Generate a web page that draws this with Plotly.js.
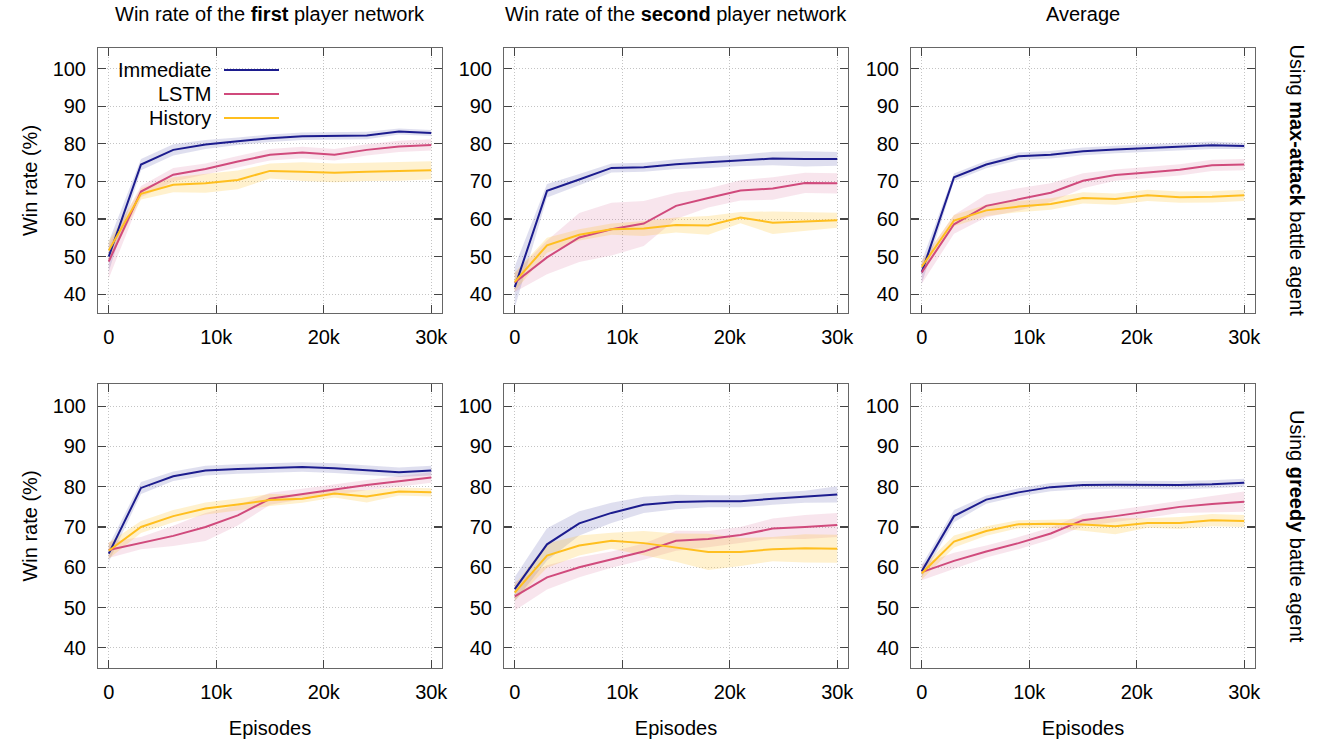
<!DOCTYPE html>
<html>
<head>
<meta charset="utf-8">
<script src="https://cdn.plot.ly/plotly-3.0.1.min.js"></script>
<style>html,body{margin:0;padding:0;background:#fff;}#chart{width:1321px;height:741px;}</style>
</head>
<body>
<div id="chart"></div>
<script>
// ---- Data ----
const episodes = [0, 3000, 6000, 9000, 12000, 15000, 18000, 21000, 24000, 27000, 30000];
const seriesNames = ["Immediate", "LSTM", "History"];
const colTitles = ["Win rate of the <b>first</b> player network", "Win rate of the <b>second</b> player network", "Average"];
const rowTitles = ["Using <b>max-attack</b> battle agent", "Using <b>greedy</b> battle agent"];
const xTickVals = [0, 10000, 20000, 30000];
const xTickText = ["0", "10k", "20k", "30k"];
const yTickVals = [40, 50, 60, 70, 80, 90, 100];

// max-attack, first player
const maxFirstImmediate = [50.0, 74.5, 78.4, 79.8, 80.7, 81.5, 82.0, 82.0, 82.2, 83.3, 82.9];
const maxFirstImmediateSd = [4.0, 1.5, 1.5, 1.2, 1.0, 1.0, 1.0, 1.0, 1.0, 0.8, 0.8];
const maxFirstLSTM = [48.7, 67.3, 71.8, 73.3, 75.3, 77.1, 77.7, 77.1, 78.4, 79.3, 79.7];
const maxFirstLSTMSd = [4.5, 1.5, 1.8, 1.5, 1.5, 1.5, 1.5, 1.5, 1.5, 1.5, 1.5];
const maxFirstHistory = [51.6, 66.7, 69.1, 69.5, 70.4, 72.8, 72.6, 72.3, 72.6, 72.7, 73.0];
const maxFirstHistorySd = [2.5, 1.5, 2.0, 2.5, 2.5, 2.0, 2.5, 2.5, 2.5, 2.5, 2.4];
// max-attack, second player
const maxSecondImmediate = [41.9, 67.5, 70.5, 73.6, 73.8, 74.6, 75.1, 75.6, 76.1, 76.0, 76.0];
const maxSecondImmediateSd = [5.5, 1.8, 1.5, 1.2, 1.2, 1.3, 1.5, 1.5, 1.8, 2.0, 1.8];
const maxSecondLSTM = [43.1, 49.8, 55.1, 57.3, 58.8, 63.5, 65.6, 67.6, 68.1, 69.6, 69.5];
const maxSecondLSTMSd = [2.5, 4.5, 6.5, 7.0, 6.0, 3.5, 2.5, 2.7, 3.0, 2.7, 2.7];
const maxSecondHistory = [43.3, 53.0, 55.8, 57.3, 57.5, 58.4, 58.3, 60.4, 59.0, 59.4, 59.7];
const maxSecondHistorySd = [2.5, 2.0, 1.5, 1.5, 2.0, 2.0, 2.5, 1.5, 3.0, 2.5, 2.0];
// max-attack, average
const maxAvgImmediate = [45.8, 71.1, 74.5, 76.7, 77.1, 78.0, 78.5, 78.8, 79.2, 79.6, 79.4];
const maxAvgImmediateSd = [3.0, 1.0, 1.0, 1.0, 1.0, 1.0, 1.0, 1.0, 1.0, 1.0, 0.8];
const maxAvgLSTM = [45.8, 58.6, 63.5, 65.2, 67.0, 70.2, 71.7, 72.4, 73.1, 74.3, 74.5];
const maxAvgLSTMSd = [3.0, 2.5, 3.0, 3.0, 2.5, 2.0, 1.5, 1.5, 1.5, 1.5, 1.5];
const maxAvgHistory = [47.3, 59.6, 62.3, 63.3, 64.0, 65.6, 65.3, 66.3, 65.8, 65.9, 66.3];
const maxAvgHistorySd = [1.5, 1.5, 1.5, 1.5, 1.5, 1.5, 1.5, 1.5, 1.5, 1.5, 1.5];
// greedy, first player
const greedyFirstImmediate = [63.4, 79.7, 82.6, 84.0, 84.4, 84.6, 84.9, 84.6, 84.1, 83.6, 84.0];
const greedyFirstImmediateSd = [2.0, 1.5, 1.2, 1.2, 1.2, 1.2, 1.2, 1.2, 1.2, 1.2, 1.2];
const greedyFirstLSTM = [64.3, 66.0, 67.8, 70.0, 72.9, 77.0, 78.2, 79.3, 80.4, 81.3, 82.3];
const greedyFirstLSTMSd = [2.0, 1.5, 2.5, 3.5, 2.5, 1.5, 1.3, 1.3, 1.3, 1.3, 1.3];
const greedyFirstHistory = [64.1, 70.0, 72.7, 74.6, 75.6, 76.7, 77.0, 78.3, 77.6, 78.8, 78.6];
const greedyFirstHistorySd = [2.0, 1.5, 1.5, 1.5, 1.5, 1.5, 1.0, 1.0, 1.5, 1.0, 1.0];
// greedy, second player
const greedySecondImmediate = [54.6, 65.7, 70.9, 73.5, 75.5, 76.2, 76.4, 76.4, 77.0, 77.5, 78.1];
const greedySecondImmediateSd = [3.0, 4.0, 3.0, 2.5, 2.0, 1.8, 1.5, 1.5, 1.5, 1.5, 2.0];
const greedySecondLSTM = [52.8, 57.5, 60.0, 61.9, 63.9, 66.6, 67.0, 68.0, 69.6, 70.0, 70.5];
const greedySecondLSTMSd = [3.5, 3.0, 2.5, 2.0, 2.0, 2.5, 2.0, 2.0, 2.5, 3.0, 3.0];
const greedySecondHistory = [53.7, 62.9, 65.4, 66.6, 66.0, 64.9, 63.8, 63.8, 64.5, 64.7, 64.6];
const greedySecondHistorySd = [2.0, 3.0, 2.5, 2.0, 3.0, 3.5, 4.5, 3.5, 3.0, 3.5, 3.5];
// greedy, average
const greedyAvgImmediate = [59.0, 72.7, 76.8, 78.6, 79.9, 80.4, 80.5, 80.4, 80.4, 80.6, 81.0];
const greedyAvgImmediateSd = [1.5, 1.5, 1.0, 1.0, 1.0, 1.0, 1.0, 1.0, 1.0, 1.0, 1.0];
const greedyAvgLSTM = [58.8, 61.6, 63.9, 66.0, 68.4, 71.7, 72.7, 73.8, 75.0, 75.7, 76.3];
const greedyAvgLSTMSd = [2.0, 2.0, 1.5, 1.5, 1.5, 1.5, 1.5, 1.5, 1.5, 2.0, 2.5];
const greedyAvgHistory = [58.5, 66.4, 69.0, 70.7, 70.8, 70.6, 70.2, 71.0, 71.0, 71.7, 71.5];
const greedyAvgHistorySd = [1.5, 1.5, 1.2, 1.0, 1.0, 1.5, 2.0, 1.2, 1.5, 1.5, 1.5];

// ---- Styling / layout ----
const W = 1321, H = 741;
const lineColors = ["#1c1c8e", "#d04a7c", "#ffbf1f"];
const fillColors = ["rgba(28,28,142,0.14)", "rgba(208,74,124,0.14)", "rgba(255,191,31,0.22)"];
const FONT = "Liberation Sans, Arial, Helvetica, sans-serif";
const FS = 20;

const panels = [
  [[maxFirstImmediate, maxFirstImmediateSd], [maxFirstLSTM, maxFirstLSTMSd], [maxFirstHistory, maxFirstHistorySd]],
  [[maxSecondImmediate, maxSecondImmediateSd], [maxSecondLSTM, maxSecondLSTMSd], [maxSecondHistory, maxSecondHistorySd]],
  [[maxAvgImmediate, maxAvgImmediateSd], [maxAvgLSTM, maxAvgLSTMSd], [maxAvgHistory, maxAvgHistorySd]],
  [[greedyFirstImmediate, greedyFirstImmediateSd], [greedyFirstLSTM, greedyFirstLSTMSd], [greedyFirstHistory, greedyFirstHistorySd]],
  [[greedySecondImmediate, greedySecondImmediateSd], [greedySecondLSTM, greedySecondLSTMSd], [greedySecondHistory, greedySecondHistorySd]],
  [[greedyAvgImmediate, greedyAvgImmediateSd], [greedyAvgLSTM, greedyAvgLSTMSd], [greedyAvgHistory, greedyAvgHistorySd]]
];

const colPx = [[98, 442], [504, 848], [911, 1255]];
const rowPx = [[48, 313], [384, 668]];
const px = v => v / W, py = v => 1 - v / H;

const traces = [];
const layout = {
  width: W, height: H,
  margin: {l: 0, r: 0, t: 0, b: 0},
  paper_bgcolor: "#fff", plot_bgcolor: "#fff",
  showlegend: false,
  font: {family: FONT, size: FS, color: "#000"},
  annotations: [], shapes: []
};

panels.forEach((panel, i) => {
  const r = Math.floor(i / 3), c = i % 3;
  const xa = i === 0 ? "x" : "x" + (i + 1);
  const ya = i === 0 ? "y" : "y" + (i + 1);
  panel.forEach(([mean, sd], s) => {
    traces.push({x: episodes, y: mean.map((m, k) => m - sd[k]), xaxis: xa, yaxis: ya,
      mode: "lines", line: {width: 0, color: fillColors[s]}, hoverinfo: "skip", showlegend: false});
    traces.push({x: episodes, y: mean.map((m, k) => m + sd[k]), xaxis: xa, yaxis: ya,
      mode: "lines", line: {width: 0, color: fillColors[s]}, fill: "tonexty", fillcolor: fillColors[s],
      hoverinfo: "skip", showlegend: false});
  });
  panel.forEach(([mean], s) => {
    traces.push({x: episodes, y: mean, xaxis: xa, yaxis: ya, name: seriesNames[s],
      mode: "lines", line: {width: 2, color: lineColors[s]}, showlegend: false});
  });
  const common = {
    showline: true, linecolor: "#666", linewidth: 1, mirror: "ticks",
    ticks: "inside", ticklen: 8, tickcolor: "#444", tickwidth: 1.2,
    showgrid: true, gridcolor: "#c4c4c4", griddash: "1px,2px", gridwidth: 1,
    zeroline: false, tickfont: {family: FONT, size: FS, color: "#000"}
  };
  layout["xaxis" + (i === 0 ? "" : i + 1)] = Object.assign({}, common, {
    domain: [px(colPx[c][0]), px(colPx[c][1])], anchor: ya,
    range: [-1000, 31000], tickvals: xTickVals, ticktext: xTickText, ticklabelstandoff: 6,
    title: r === 1 ? {text: "Episodes", font: {family: FONT, size: FS}, standoff: 18} : {text: ""}
  });
  layout["yaxis" + (i === 0 ? "" : i + 1)] = Object.assign({}, common, {
    domain: [py(rowPx[r][1]), py(rowPx[r][0])], anchor: xa,
    range: [35, 105.5], tickvals: yTickVals, ticklabelstandoff: 7,
    title: c === 0 ? {text: "Win rate (%)", font: {family: FONT, size: FS}, standoff: 9} : {text: ""}
  });
});

colTitles.forEach((t, c) => {
  layout.annotations.push({text: t, xref: "paper", yref: "paper",
    x: px((colPx[c][0] + colPx[c][1]) / 2), y: py(14), xanchor: "center", yanchor: "middle",
    showarrow: false, font: {family: FONT, size: FS}});
});
rowTitles.forEach((t, r) => {
  layout.annotations.push({text: t, xref: "paper", yref: "paper",
    x: px(1297), y: py((rowPx[r][0] + rowPx[r][1]) / 2), xanchor: "center", yanchor: "middle",
    textangle: 90, showarrow: false, font: {family: FONT, size: FS}});
});
const legY = [70, 94, 118];
seriesNames.forEach((n, s) => {
  layout.annotations.push({text: n, xref: "paper", yref: "paper",
    x: px(213), y: py(legY[s]), xanchor: "right", yanchor: "middle",
    showarrow: false, font: {family: FONT, size: FS}});
  layout.shapes.push({type: "line", xref: "paper", yref: "paper",
    x0: px(224), x1: px(279), y0: py(legY[s]), y1: py(legY[s]),
    line: {color: lineColors[s], width: 2}});
});

Plotly.newPlot("chart", traces, layout, {staticPlot: true, displayModeBar: false});
</script>
</body>
</html>
